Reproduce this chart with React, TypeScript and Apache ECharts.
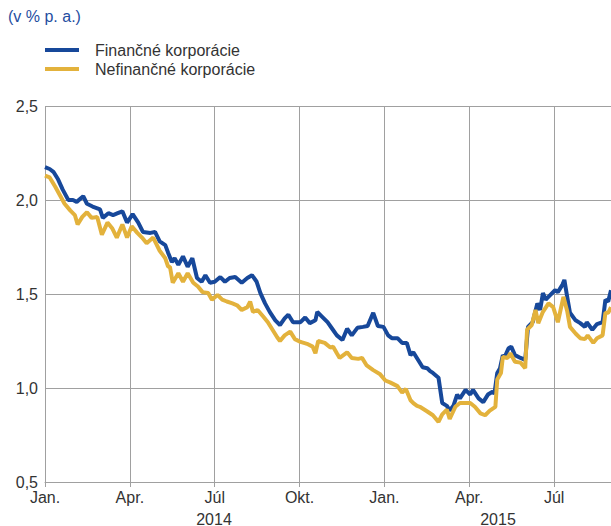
import React, { useEffect, useRef } from "react";
import * as echarts from "echarts";

// x = days since 1 Jan 2014, y = % p.a.
const finName = "Finančné korporácie";
const nefinName = "Nefinančné korporácie";

const finData: [number, number][] = [
  [0, 2.175], [5, 2.165], [9, 2.15], [14, 2.11], [19, 2.055], [25, 2.0], [30, 2.0], [34, 1.99], [41, 2.02], [45, 1.98],
  [51, 1.965], [59, 1.95], [62, 1.905], [68, 1.93], [73, 1.92], [78, 1.93], [83, 1.94], [88, 1.88], [94, 1.925], [100, 1.88],
  [105, 1.83], [113, 1.825], [118, 1.83], [123, 1.78], [129, 1.76], [132, 1.72], [136, 1.67], [139, 1.69], [143, 1.655], [148, 1.7],
  [153, 1.645], [158, 1.69], [163, 1.585], [168, 1.565], [172, 1.6], [177, 1.56], [182, 1.565], [188, 1.59], [193, 1.565], [198, 1.585],
  [204, 1.59], [211, 1.56], [217, 1.585], [222, 1.6], [227, 1.565], [231, 1.505], [236, 1.45], [241, 1.405], [247, 1.36], [252, 1.335],
  [257, 1.37], [261, 1.39], [266, 1.35], [274, 1.35], [279, 1.375], [284, 1.345], [290, 1.36], [292, 1.405], [297, 1.38], [303, 1.35],
  [308, 1.315], [313, 1.28], [319, 1.255], [324, 1.315], [329, 1.28], [335, 1.32], [341, 1.325], [346, 1.33], [352, 1.4], [357, 1.33],
  [363, 1.325], [368, 1.28], [372, 1.265], [378, 1.265], [383, 1.24], [388, 1.24], [392, 1.175], [395, 1.19], [400, 1.15], [405, 1.11],
  [410, 1.105], [413, 1.09], [416, 1.08], [422, 1.055], [426, 0.92], [431, 0.905], [434, 0.88], [438, 0.905], [442, 0.965], [445, 0.945],
  [451, 0.99], [456, 0.965], [459, 0.99], [465, 0.945], [470, 0.925], [475, 0.965], [480, 0.98], [482, 0.97], [485, 1.08], [488, 1.105],
  [491, 1.175], [493, 1.165], [497, 1.21], [500, 1.22], [504, 1.175], [510, 1.16], [515, 1.15], [518, 1.325], [523, 1.35], [528, 1.45],
  [531, 1.415], [534, 1.505], [537, 1.47], [542, 1.495], [547, 1.52], [550, 1.51], [555, 1.55], [557, 1.575], [560, 1.485], [563, 1.4],
  [569, 1.36], [574, 1.345], [579, 1.325], [581, 1.35], [587, 1.31], [592, 1.34], [598, 1.35], [601, 1.47], [604, 1.46], [607, 1.52],
];

const nefinData: [number, number][] = [
  [0, 2.13], [5, 2.12], [11, 2.07], [16, 2.025], [21, 1.98], [27, 1.945], [32, 1.92], [35, 1.87], [40, 1.91], [45, 1.935],
  [50, 1.905], [56, 1.91], [61, 1.815], [67, 1.88], [72, 1.85], [77, 1.8], [83, 1.87], [88, 1.8], [93, 1.86], [99, 1.825],
  [104, 1.8], [109, 1.77], [116, 1.8], [123, 1.73], [129, 1.69], [132, 1.645], [134, 1.645], [137, 1.56], [143, 1.61], [148, 1.565],
  [153, 1.61], [159, 1.56], [164, 1.54], [169, 1.51], [175, 1.505], [179, 1.47], [185, 1.495], [190, 1.47], [195, 1.46], [201, 1.45],
  [206, 1.44], [211, 1.415], [217, 1.43], [220, 1.46], [223, 1.405], [228, 1.415], [234, 1.38], [239, 1.35], [244, 1.31], [249, 1.27],
  [252, 1.25], [257, 1.28], [263, 1.3], [268, 1.26], [274, 1.245], [281, 1.235], [287, 1.22], [290, 1.185], [293, 1.25], [300, 1.24],
  [306, 1.215], [309, 1.22], [313, 1.185], [316, 1.16], [324, 1.19], [329, 1.16], [336, 1.155], [340, 1.16], [345, 1.12], [352, 1.095],
  [359, 1.075], [365, 1.04], [370, 1.03], [378, 1.01], [383, 0.975], [387, 0.995], [392, 0.935], [395, 0.92], [399, 0.905], [402, 0.9],
  [410, 0.875], [416, 0.855], [422, 0.82], [426, 0.86], [431, 0.885], [434, 0.835], [440, 0.9], [445, 0.92], [451, 0.92], [456, 0.92],
  [461, 0.9], [467, 0.865], [472, 0.855], [477, 0.88], [483, 0.9], [485, 1.045], [489, 1.08], [491, 1.165], [496, 1.16], [499, 1.185],
  [504, 1.14], [510, 1.135], [515, 1.105], [517, 1.31], [522, 1.335], [526, 1.415], [529, 1.345], [534, 1.405], [540, 1.45], [545, 1.43],
  [550, 1.35], [556, 1.485], [560, 1.41], [563, 1.325], [569, 1.29], [574, 1.265], [579, 1.26], [582, 1.28], [588, 1.24], [592, 1.265],
  [598, 1.28], [601, 1.4], [604, 1.4], [607, 1.43],
];

const monthLabels = ["Jan.", "Apr.", "Júl", "Okt.", "Jan.", "Apr.", "Júl"];
const yearLabels = ["2014", "2015"];

const GRID = "#a0a0a0";
const TEXT = "#333333";
const FONT = "Liberation Sans, Arial, sans-serif";

export default function App() {
  const ref = useRef<HTMLDivElement>(null);
  useEffect(() => {
    if (!ref.current) return;
    const chart = echarts.init(ref.current, undefined, { renderer: "svg" });
    chart.setOption({
      animation: false,
      backgroundColor: "#ffffff",
      textStyle: { fontFamily: FONT },
      grid: { left: 45, right: 0, top: 106, bottom: 44, containLabel: false },
      legend: {
        orient: "vertical",
        left: 45,
        top: 42,
        padding: 0,
        itemWidth: 34,
        itemHeight: 4,
        itemGap: 3,
        icon: "rect",
        textStyle: { fontSize: 16, color: TEXT, fontFamily: FONT, padding: [0, 0, 0, 11] },
        data: [finName, nefinName],
      },
      xAxis: {
        type: "value",
        min: 0,
        max: 607,
        interval: 91,
        axisLine: { show: true, lineStyle: { color: GRID, width: 1 } },
        axisTick: { show: true, length: 5, lineStyle: { color: GRID, width: 1 } },
        splitLine: { show: true, lineStyle: { color: GRID, width: 1 } },
        axisLabel: {
          color: TEXT,
          fontSize: 16,
          fontFamily: FONT,
          margin: 7,
          showMaxLabel: false,
          formatter: (v: number) => {
            const i = Math.round(v / 91);
            return Math.abs(v - i * 91) < 0.5 && i < monthLabels.length ? monthLabels[i] : "";
          },
        },
      },
      yAxis: {
        type: "value",
        min: 0.5,
        max: 2.5,
        interval: 0.5,
        axisLine: { show: false },
        axisTick: { show: false },
        splitLine: { show: true, lineStyle: { color: GRID, width: 1 } },
        axisLabel: {
          color: TEXT,
          fontSize: 16,
          fontFamily: FONT,
          margin: 7,
          formatter: (v: number) => v.toFixed(1).replace(".", ","),
        },
      },
      graphic: [
        {
          type: "text",
          left: 8,
          top: 8,
          style: { text: "(v % p. a.)", fill: "#1f4ea1", font: `16px ${FONT}` },
        },
        {
          type: "text",
          x: 214,
          y: 511,
          style: { text: yearLabels[0], fill: TEXT, font: `16px ${FONT}`, textAlign: "center" },
        },
        {
          type: "text",
          x: 498,
          y: 511,
          style: { text: yearLabels[1], fill: TEXT, font: `16px ${FONT}`, textAlign: "center" },
        },
      ],
      series: [
        {
          name: finName,
          type: "line",
          data: finData,
          symbol: "none",
          lineStyle: { color: "#17489a", width: 4 },
          itemStyle: { color: "#17489a" },
        },
        {
          name: nefinName,
          type: "line",
          data: nefinData,
          symbol: "none",
          lineStyle: { color: "#e3b23c", width: 4 },
          itemStyle: { color: "#e3b23c" },
        },
      ],
    });
    return () => chart.dispose();
  }, []);
  return (
    <div
      ref={ref}
      style={{ position: "absolute", left: 0, top: 0, width: 611, height: 526 }}
    />
  );
}
